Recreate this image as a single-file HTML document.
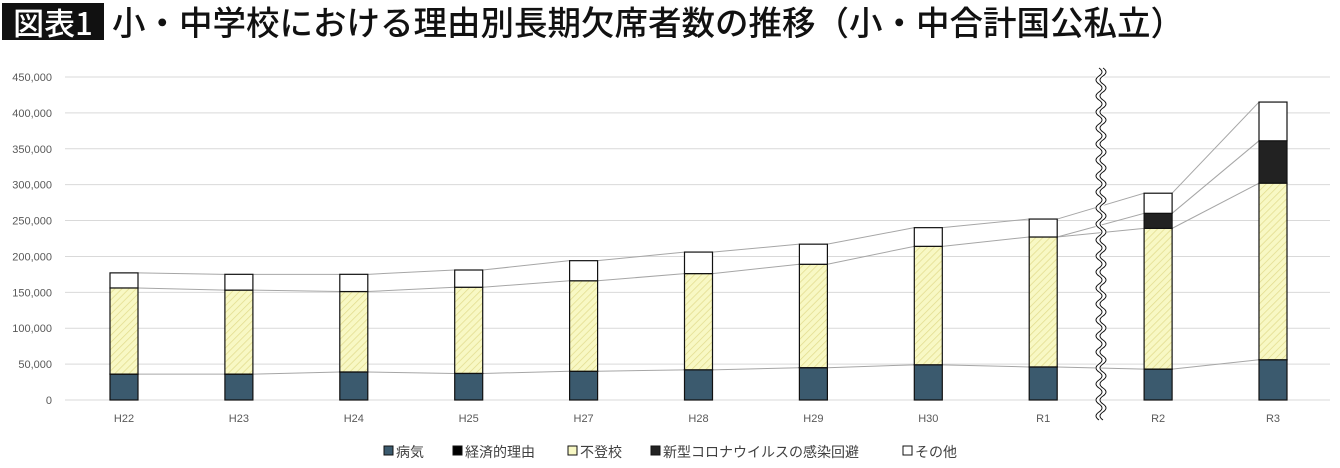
<!DOCTYPE html>
<html><head><meta charset="utf-8"><style>
body{margin:0;background:#fff;width:1340px;height:468px;overflow:hidden;font-family:"Liberation Sans","Noto Sans CJK JP",sans-serif}
#title-badge{position:absolute;left:2px;top:3px;width:102px;height:37px;background:#111;color:#fff;font-size:31px;line-height:37px;text-align:center;font-family:"Noto Sans CJK JP",sans-serif;font-weight:500}
#title{position:absolute;left:112px;top:-1px;font-size:33.5px;line-height:44px;color:#111;font-family:"Noto Sans CJK JP",sans-serif;font-weight:500;white-space:nowrap}
svg{position:absolute;left:0;top:0}
</style></head><body>
<div id="title-badge">図表1</div>
<div id="title">小・中学校における理由別長期欠席者数の推移（小・中合計国公私立）</div>
<svg id="chart" width="1340" height="468">
<defs><pattern id="hatch" width="5" height="5" patternUnits="userSpaceOnUse" patternTransform="rotate(45)"><rect width="5" height="5" fill="#f8f8c4"/><line x1="0" y1="0" x2="0" y2="5" stroke="#e2dc8e" stroke-width="1.5"/></pattern></defs>
</svg>
<script>
const categories=["H22","H23","H24","H25","H27","H28","H29","H30","R1","R2","R3"];
const illness=[36000,36000,39000,37000,40000,42000,45000,49000,46000,43000,56000];
const economic=[100,100,100,100,100,100,100,100,100,100,100];
const futoko=[120000,117000,112000,120000,126000,134000,144000,165000,181000,196000,246000];
const corona=[0,0,0,0,0,0,0,0,0,21000,59000];
const other=[21000,22000,24000,24000,28000,30000,28000,26000,25000,28000,54000];
const yTicks=[0,50000,100000,150000,200000,250000,300000,350000,400000,450000];
const seriesNames=["病気","経済的理由","不登校","新型コロナウイルスの感染回避","その他"];

const NS="http://www.w3.org/2000/svg";
const svg=document.getElementById('chart');
const x0=65,x1=1330,yBase=400,yTop=77,yMax=450000;
const y=v=>yBase-v/yMax*(yBase-yTop);
const xc=i=>124+i*114.9;
const bw=28;
function mk(t,a,p){const e=document.createElementNS(NS,t);for(const k in a)e.setAttribute(k,a[k]);(p||svg).appendChild(e);return e;}
yTicks.forEach(t=>{
  const l=mk('line',{x1:x0,x2:x1,y1:y(t),y2:y(t),stroke:'#d9d9d9','stroke-width':1});
  
  
  const tx=mk('text',{x:52,y:y(t)+4,'text-anchor':'end','font-size':11,fill:'#595959'});
  tx.textContent=t.toLocaleString('en-US');
  
  
});
const series=[illness,economic,futoko,corona,other];
const fills=['#3b5a6e','#000','url(#hatch)','#222','#fff'];
const cum=categories.map((c,i)=>{let s=0;return series.map(a=>s+=a[i]);});
[0,2,3,4].forEach(k=>{
  for(let i=0;i<categories.length-1;i++){
    if(k===3 && series[3][i+1]===0)continue;
    let a=cum[i][k],b=cum[i+1][k];
    if(k===3&&series[3][i]===0)a=cum[i][2];
    const l=mk('line',{x1:xc(i)+bw/2,y1:y(a),x2:xc(i+1)-bw/2,y2:y(b),stroke:'#a6a6a6','stroke-width':1});
    
    
  }
});
categories.forEach((c,i)=>{
  let base=0;
  series.forEach((arr,k)=>{
    const v=arr[i];if(v<=0){return;}
    const r=mk('rect',{x:xc(i)-bw/2,y:y(base+v),width:bw,height:y(base)-y(base+v),fill:fills[k],stroke:'#111','stroke-width':1.2});
    
    
    base+=v;
  });
  const t=mk('text',{x:xc(i),y:422,'text-anchor':'middle','font-size':11,fill:'#595959'});
  t.textContent=c;
  
  
});
let d='M1101,68';for(let yy=68;yy<410;yy+=16){d+=' q6,4 0,8 q-6,4 0,8';}
const bk1=mk('path',{d:d,fill:'none',stroke:'#fff','stroke-width':6});


const bk2=mk('path',{d:d,fill:'none',stroke:'#111','stroke-width':1,transform:'translate(-2,0)'});


const bk3=mk('path',{d:d,fill:'none',stroke:'#111','stroke-width':1,transform:'translate(2,0)'});


const lx=[384,453,568,651,903];
const lfill=['#3b5a6e','#000','#f8f8c4','#222','#fff'];
seriesNames.forEach((n,k)=>{
  const g=mk('g',{});
  
  
  mk('rect',{x:lx[k],y:446,width:9,height:9,fill:lfill[k],stroke:'#111','stroke-width':1},g);
  const t=mk('text',{x:lx[k]+12,y:457,'font-size':14,fill:'#404040'},g);
  t.textContent=n;
});
</script>
</body></html>
